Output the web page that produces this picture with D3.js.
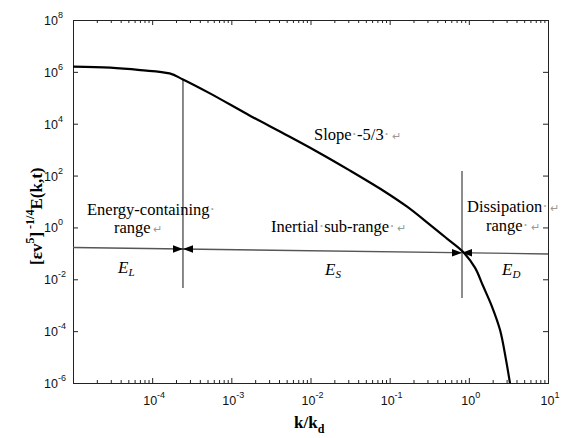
<!DOCTYPE html>
<html><head><meta charset="utf-8">
<script src="https://cdn.jsdelivr.net/npm/d3@7"></script>
<style>body{margin:0;background:#fff}</style>
</head><body>
<svg id="chart" width="564" height="438"></svg>
<script>
// ---- data ----
const wavenumber = [1.0e-5, 2.95e-5, 7.08e-5, 1.66e-4, 2.45e-4, 5.37e-4, 1.74e-3, 4.57e-3, 1.20e-2, 3.16e-2, 8.32e-2, 0.166, 0.324, 0.525, 0.843, 1.20, 1.51, 1.96, 2.48, 2.95, 3.31, 3.61];
const energy = [1.58e6, 1.45e6, 1.17e6, 8.7e5, 5.1e5, 1.48e5, 2.0e4, 4.2e3, 850, 155, 26, 6.3, 1.26, 0.38, 0.115, 0.0275, 5.6e-3, 8.9e-4, 1.1e-4, 7.8e-6, 1.0e-6, 2.2e-7];
const xTickValues = [1e-4, 1e-3, 1e-2, 1e-1, 1, 10];
const xTickExponents = ["-4", "-3", "-2", "-1", "0", "1"];
const yTickValues = [1e8, 1e6, 1e4, 1e2, 1, 1e-2, 1e-4, 1e-6];
const yTickExponents = ["8", "6", "4", "2", "0", "-2", "-4", "-6"];
const rangeBoundaries = [2.45e-4, 0.82];          // k/kd of the two vertical dividers
const dividerTops = [5.1e5, 150];                 // E at top of each divider
const dividerBottoms = [4.6e-3, 1.9e-3];          // E at bottom of each divider
const baseLineK = [1e-5, 10];                     // horizontal reference line ends
const baseLineE = [0.168, 0.0946];

// ---- scales ----
const svg = d3.select("#chart");
const x = d3.scaleLog().domain([1e-5, 10]).range([73, 548]);
const y = d3.scaleLog().domain([1e-6, 1e8]).range([383, 20]);
const serif = "'Liberation Serif','Times New Roman',serif";
const sans = "'Liberation Sans',Arial,sans-serif";

svg.append("defs").append("clipPath").attr("id", "plotclip")
  .append("rect").attr("x", 73).attr("y", 20).attr("width", 475).attr("height", 363);

// ---- axes (ticks inward, box) ----
const allX = x.ticks();
const isMajor = v => xTickValues.some(m => Math.abs(v / m - 1) < 1e-6) || Math.abs(v / 1e-5 - 1) < 1e-6;
const minorX = allX.filter(v => !isMajor(v));
const majorX = allX.filter(v => isMajor(v));

function styleAxis(g) {
  g.attr("color", "#222");
  g.select(".domain").remove();
  g.selectAll("line").attr("stroke-width", 1);
}
svg.append("g").attr("transform", "translate(0,383)")
  .call(d3.axisBottom(x).tickValues(minorX).tickSize(-3).tickFormat("")).call(styleAxis);
svg.append("g").attr("transform", "translate(0,383)")
  .call(d3.axisBottom(x).tickValues(majorX).tickSize(-5).tickFormat("")).call(styleAxis);
svg.append("g").attr("transform", "translate(0,20)")
  .call(d3.axisTop(x).tickValues(minorX).tickSize(-3).tickFormat("")).call(styleAxis);
svg.append("g").attr("transform", "translate(0,20)")
  .call(d3.axisTop(x).tickValues(majorX).tickSize(-5).tickFormat("")).call(styleAxis);
svg.append("g").attr("transform", "translate(73,0)")
  .call(d3.axisLeft(y).tickValues(yTickValues).tickSize(-5).tickFormat("")).call(styleAxis);
svg.append("g").attr("transform", "translate(548,0)")
  .call(d3.axisRight(y).tickValues(yTickValues).tickSize(-5).tickFormat("")).call(styleAxis);

svg.append("rect").attr("x", 73.5).attr("y", 20.5).attr("width", 475).attr("height", 363)
  .attr("fill", "none").attr("stroke", "#222").attr("stroke-width", 1);

// tick labels
xTickValues.forEach((v, i) => {
  const t = svg.append("text").attr("x", x(v) + 2).attr("y", 405)
    .attr("text-anchor", "middle").attr("font-family", sans).attr("fill", "#111");
  t.append("tspan").attr("font-size", 12.5).text("10");
  t.append("tspan").attr("font-size", 9).attr("dy", -7).text(xTickExponents[i]);
});
yTickValues.forEach((v, i) => {
  const t = svg.append("text").attr("x", 44).attr("y", y(v) + 5)
    .attr("font-family", sans).attr("fill", "#111");
  t.append("tspan").attr("font-size", 12.5).text("10");
  t.append("tspan").attr("font-size", 9).attr("dy", -7).text(yTickExponents[i]);
});

// axis titles
const xl = svg.append("text").attr("x", 294).attr("y", 428)
  .attr("font-family", serif).attr("font-weight", "bold").attr("font-size", 17).attr("fill", "#000");
xl.append("tspan").text("k/k");
xl.append("tspan").attr("font-size", 12).attr("dy", 5).text("d");

const yl = svg.append("text").attr("transform", "translate(42,265) rotate(-90)")
  .attr("font-family", serif).attr("font-weight", "bold").attr("font-size", 17).attr("fill", "#000");
yl.append("tspan").text("[εv");
yl.append("tspan").attr("font-size", 12).attr("dy", -8).text("5");
yl.append("tspan").attr("dy", 8).text("]");
yl.append("tspan").attr("font-size", 12).attr("dy", -8).text(" -1/4");
yl.append("tspan").attr("dy", 8).text("E(k,t)");

// ---- annotation lines ----
const lineGen = d3.line().x(d => x(d[0])).y(d => y(d[1]));
const baseLine = baseLineK.map((k, i) => [k, baseLineE[i]]);
svg.append("path").attr("d", lineGen(baseLine))
  .attr("stroke", "#555").attr("stroke-width", 1.3).attr("fill", "none");

const dividerColors = ["#111", "#666"];
const dividerWidths = [1, 1.5];
rangeBoundaries.forEach((k, i) => {
  svg.append("line").attr("x1", x(k)).attr("x2", x(k))
    .attr("y1", y(dividerTops[i])).attr("y2", y(dividerBottoms[i]))
    .attr("stroke", dividerColors[i]).attr("stroke-width", dividerWidths[i]);
});

// base line y at a given pixel x
const bx0 = x(baseLineK[0]), bx1 = x(baseLineK[1]);
const by0 = y(baseLineE[0]), by1 = y(baseLineE[1]);
const baseY = px => by0 + (px - bx0) / (bx1 - bx0) * (by1 - by0);

function arrow(tipX, tipY, dir) {
  return `M${tipX},${tipY}L${tipX - dir * 10},${tipY - 3.8}L${tipX - dir * 10},${tipY + 3.8}Z`;
}

// ---- spectrum curve ----
const curve = d3.line().x(d => x(d[0])).y(d => y(d[1])).curve(d3.curveCatmullRom.alpha(0.5));
svg.append("path").attr("clip-path", "url(#plotclip)")
  .attr("d", curve(wavenumber.map((k, i) => [k, energy[i]])))
  .attr("fill", "none").attr("stroke", "#000").attr("stroke-width", 2.2)
  .attr("stroke-linejoin", "round");

rangeBoundaries.forEach(k => {
  const px = x(k), py = baseY(px);
  svg.append("path").attr("d", arrow(px, py, 1)).attr("fill", "#000");
  svg.append("path").attr("d", arrow(px, py, -1)).attr("fill", "#000");
});

// ---- text annotations ----
function wordText(px, py, parts) {
  const t = svg.append("text").attr("x", px).attr("y", py)
    .attr("font-family", serif).attr("font-size", 16.5).attr("fill", "#000");
  parts.forEach(p => {
    if (p === "·") t.append("tspan").attr("fill", "#aaa").text("·");
    else if (p === "↵") t.append("tspan").attr("fill", "#999").attr("font-size", 11).text(" ↵");
    else t.append("tspan").text(p);
  });
  return t;
}
wordText(87, 215, ["Energy-containing", "·"]);
wordText(114, 233, ["range", "↵"]);
wordText(314, 140, ["Slope", "·", "-5/3", "·", "↵"]);
wordText(271, 232, ["Inertial", "·", "sub-range", "·", "↵"]);
wordText(467, 212, ["Dissipation", "·", "↵"]);
wordText(486, 231, ["range", "·", "↵"]);

function energyLabel(px, py, sub) {
  const t = svg.append("text").attr("x", px).attr("y", py)
    .attr("font-family", serif).attr("font-style", "italic").attr("font-size", 17).attr("fill", "#000");
  t.append("tspan").text("E");
  t.append("tspan").attr("font-size", 11).attr("dy", 3).text(sub);
}
energyLabel(118, 273, "L");
energyLabel(325, 275, "S");
energyLabel(502, 275, "D");
</script>
</body></html>
